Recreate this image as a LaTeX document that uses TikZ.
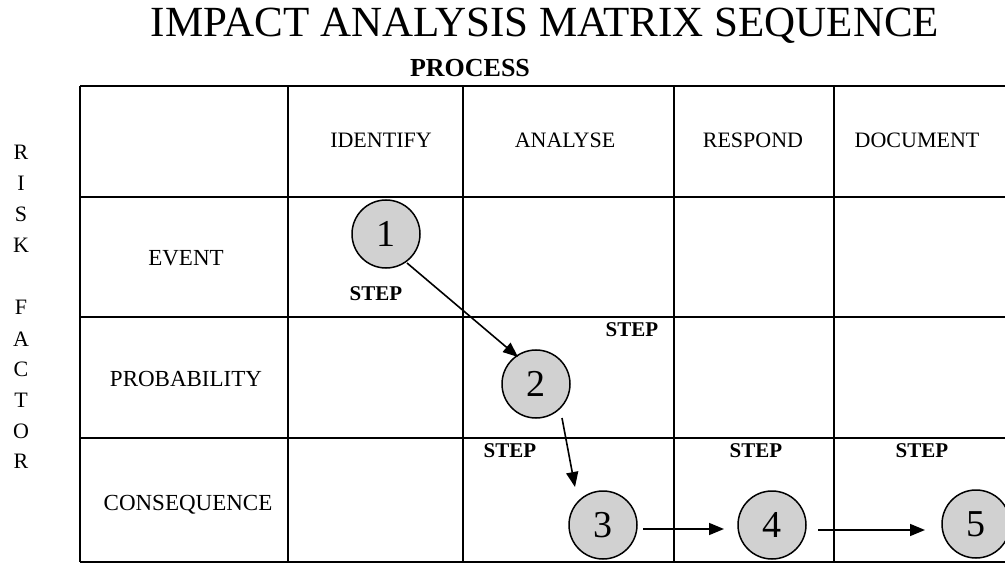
\documentclass[tikz,border=0pt]{standalone}
\usepackage{fontspec}
\setmainfont{Liberation Serif}
\usetikzlibrary{arrows.meta,calc}
\begin{document}
\begin{tikzpicture}[x=1pt,y=-1pt,
  gridline/.style={line width=1.5pt},
  stepcircle/.style={circle,draw,line width=1.5pt,fill=black!18,minimum size=68pt,inner sep=0pt,font=\fontsize{38}{40}\selectfont},
  steplabel/.style={anchor=base,inner sep=0pt,font=\bfseries\fontsize{21}{24}\selectfont},
  rowlabel/.style={anchor=base,inner sep=0pt,font=\fontsize{23}{26}\selectfont},
  collabel/.style={anchor=base,inner sep=0pt,font=\fontsize{22}{26}\selectfont},
  sideletter/.style={anchor=base,inner sep=0pt,font=\fontsize{22}{24}\selectfont},
  flow/.style={line width=1.6pt,-{Triangle[length=15pt,width=12pt]}}
]
\useasboundingbox (0,0) rectangle (1005,564);
% title
\node[anchor=base,inner sep=0pt,font=\fontsize{43}{48}\selectfont] (title) at (545,37) {IMPACT ANALYSIS MATRIX SEQUENCE};
\node[anchor=base,inner sep=0pt,font=\bfseries\fontsize{26}{28}\selectfont] (process) at (470,77) {PROCESS};
% grid
\foreach \y in {86,197,317,438,562} \draw[gridline] (80,\y) -- (1005,\y);
\foreach \x in {80,288,463,674,834} \draw[gridline] (\x,86) -- (\x,562);
% column headers
\node[collabel] (hid) at (381,148) {IDENTIFY};
\node[collabel] (han) at (565,148) {ANALYSE};
\node[collabel] (hre) at (753,148) {RESPOND};
\node[collabel] (hdo) at (917,148) {DOCUMENT};
% row labels
\node[rowlabel] (rev) at (186,266) {EVENT};
\node[rowlabel] (rpr) at (186,386) {PROBABILITY};
\node[rowlabel] (rco) at (188,510) {CONSEQUENCE};
% side letters
\node[sideletter] (l1) at (21,160) {R};
\node[sideletter] (l2) at (21,191) {I};
\node[sideletter] (l3) at (21,222) {S};
\node[sideletter] (l4) at (21,253) {K};
\node[sideletter] (l5) at (21,315) {F};
\node[sideletter] (l6) at (21,346) {A};
\node[sideletter] (l7) at (21,377) {C};
\node[sideletter] (l8) at (21,407) {T};
\node[sideletter] (l9) at (21,438) {O};
\node[sideletter] (l10) at (21,468) {R};
% STEP labels
\node[steplabel] (s1) at (376,301) {STEP};
\node[steplabel] (s2) at (632,337) {STEP};
\node[steplabel] (s3) at (510,457) {STEP};
\node[steplabel] (s4) at (756,457) {STEP};
\node[steplabel] (s5) at (922,457) {STEP};
% circles
\node[stepcircle] (c1) at (386,234) {1};
\node[stepcircle] (c2) at (536,384) {2};
\node[stepcircle] (c3) at (603,525) {3};
\node[stepcircle] (c4) at (772,525) {4};
\node[stepcircle] (c5) at (976,524) {5};
% arrows
\draw[flow] ($(c1)+(21,29)$) -- ($(c2)+(-18,-27)$);
\draw[flow] ($(c2)+(26,34)$) -- ($(c3)+(-28,-38)$);
\draw[flow] ($(c3)+(40,4)$) -- ($(c4)+(-48,4)$);
\draw[flow] ($(c4)+(46,5)$) -- ($(c5)+(-51,6)$);
\end{tikzpicture}
\end{document}
